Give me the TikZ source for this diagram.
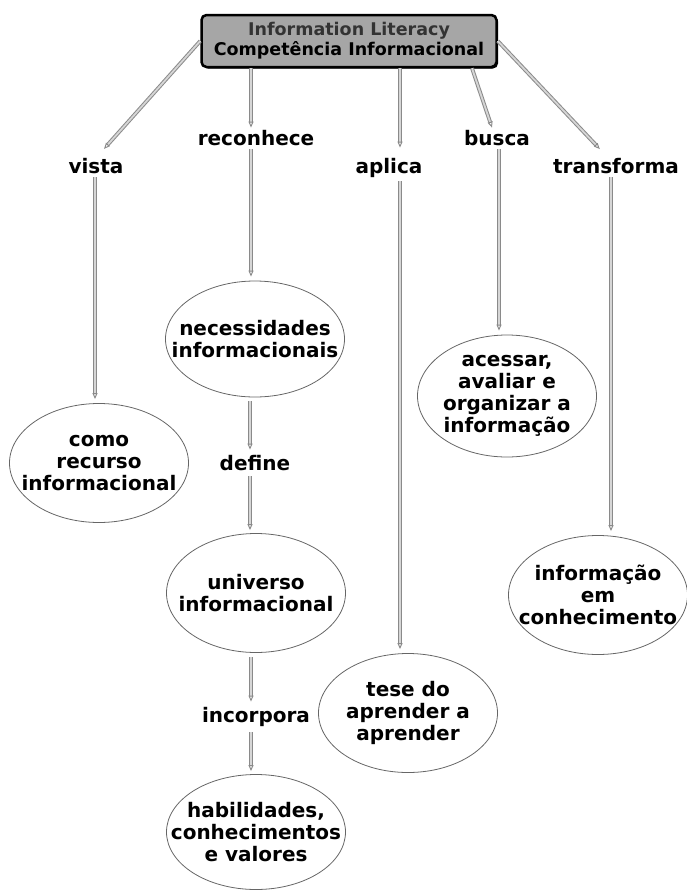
\documentclass[tikz,border=0pt]{standalone}
\usepackage{fontspec}
\setmainfont{DejaVu Sans}
\usetikzlibrary{arrows.meta,shapes.geometric,shadows}
\definecolor{boxgray}{HTML}{A6A6A6}
\definecolor{linegray}{HTML}{8A8A8A}
\definecolor{fillgray}{HTML}{D6D6D6}

\begin{document}
\begin{tikzpicture}[x=1pt, y=-1pt,
		title/.style={rectangle, rounded corners=5pt, draw=black, line width=2.5pt, fill=boxgray,
			minimum width=295pt, minimum height=52pt, align=center,
			font=\fontsize{17.5}{20}\selectfont\bfseries,
			drop shadow={shadow xshift=1.5pt, shadow yshift=-1.5pt, fill=black, opacity=1}},
		concept/.style={ellipse, draw=black!60, line width=0.8pt, inner sep=-30pt,
			minimum width=179pt, minimum height=119pt, align=center,
			font=\fontsize{20}{22}\selectfont\bfseries},
		verb/.style={anchor=base, inner sep=2pt, font=\fontsize{20}{22}\selectfont\bfseries},
		conn/.style={draw=linegray, double=fillgray, line width=1pt, double distance=1.8pt,
			-{Triangle[open, length=6pt, width=5pt]}}]
	\useasboundingbox (0,0) rectangle (687,892);

	% top concept
	\node[title] (literacy) at (349,41) {{\color{black!80}Information Literacy}\\Competência Informacional};

	% linking words
	\node[verb] (vista) at (96,173) {vista};
	\node[verb] (reconhece) at (256,145) {reconhece};
	\node[verb] (aplica) at (389,173) {aplica};
	\node[verb] (busca) at (497,145) {busca};
	\node[verb] (transforma) at (616,173) {transforma};
	\node[verb] (define) at (255,470) {define};
	\node[verb] (incorpora) at (256,722) {incorpora};

	% concepts
	\node[concept] (recurso) at (99,463) {como\\recurso\\informacional};
	\node[concept, minimum height=116pt] (necessidades) at (255,339) {necessidades\\informacionais};
	\node[concept, minimum height=122pt] (acessar) at (507,396) {acessar,\\avaliar e\\organizar a\\informação};
	\node[concept] (universo) at (256,593) {universo\\informacional};
	\node[concept] (conhecimento) at (598,595) {informação\\em\\conhecimento};
	\node[concept] (tese) at (408,713) {tese do\\aprender a\\aprender};
	\node[concept, minimum height=115pt] (habilidades) at (256,832) {habilidades,\\conhecimentos\\e valores};

	% from the top box
	\draw[conn, shorten >=9pt] (literacy.west) -- ([xshift=2pt]vista.north);
	\draw[conn] ([xshift=-5pt]reconhece.north |- literacy.south) -- ([xshift=-5pt]reconhece.north);
	\draw[conn, shorten >=8pt] ([xshift=11pt]aplica.north |- literacy.south) -- ([xshift=11pt]aplica.north);
	\draw[conn] ([xshift=123pt]literacy.south) -- ([xshift=-5pt]busca.north);
	\draw[conn, shorten >=9pt] (literacy.east) -- ([xshift=-10pt]transforma.north);

	% down to the concepts
	\foreach \from/\to/\dx in {vista/recurso/-1, reconhece/necessidades/-5, aplica/tese/11,
			busca/acessar/2, transforma/conhecimento/-5}
		\draw[conn, shorten <=2pt, shorten >=4pt] ([xshift=\dx pt]\from.south) -- ([xshift=\dx pt]\from.south |- \to.north);
	\foreach \from/\to in {necessidades/define, define/universo, universo/incorpora, incorpora/habilidades}
		\draw[conn, shorten <=4pt, shorten >=3pt] ([xshift=-5pt]\from.south) -- ([xshift=-5pt]\from.south |- \to.north);
\end{tikzpicture}
\end{document}
